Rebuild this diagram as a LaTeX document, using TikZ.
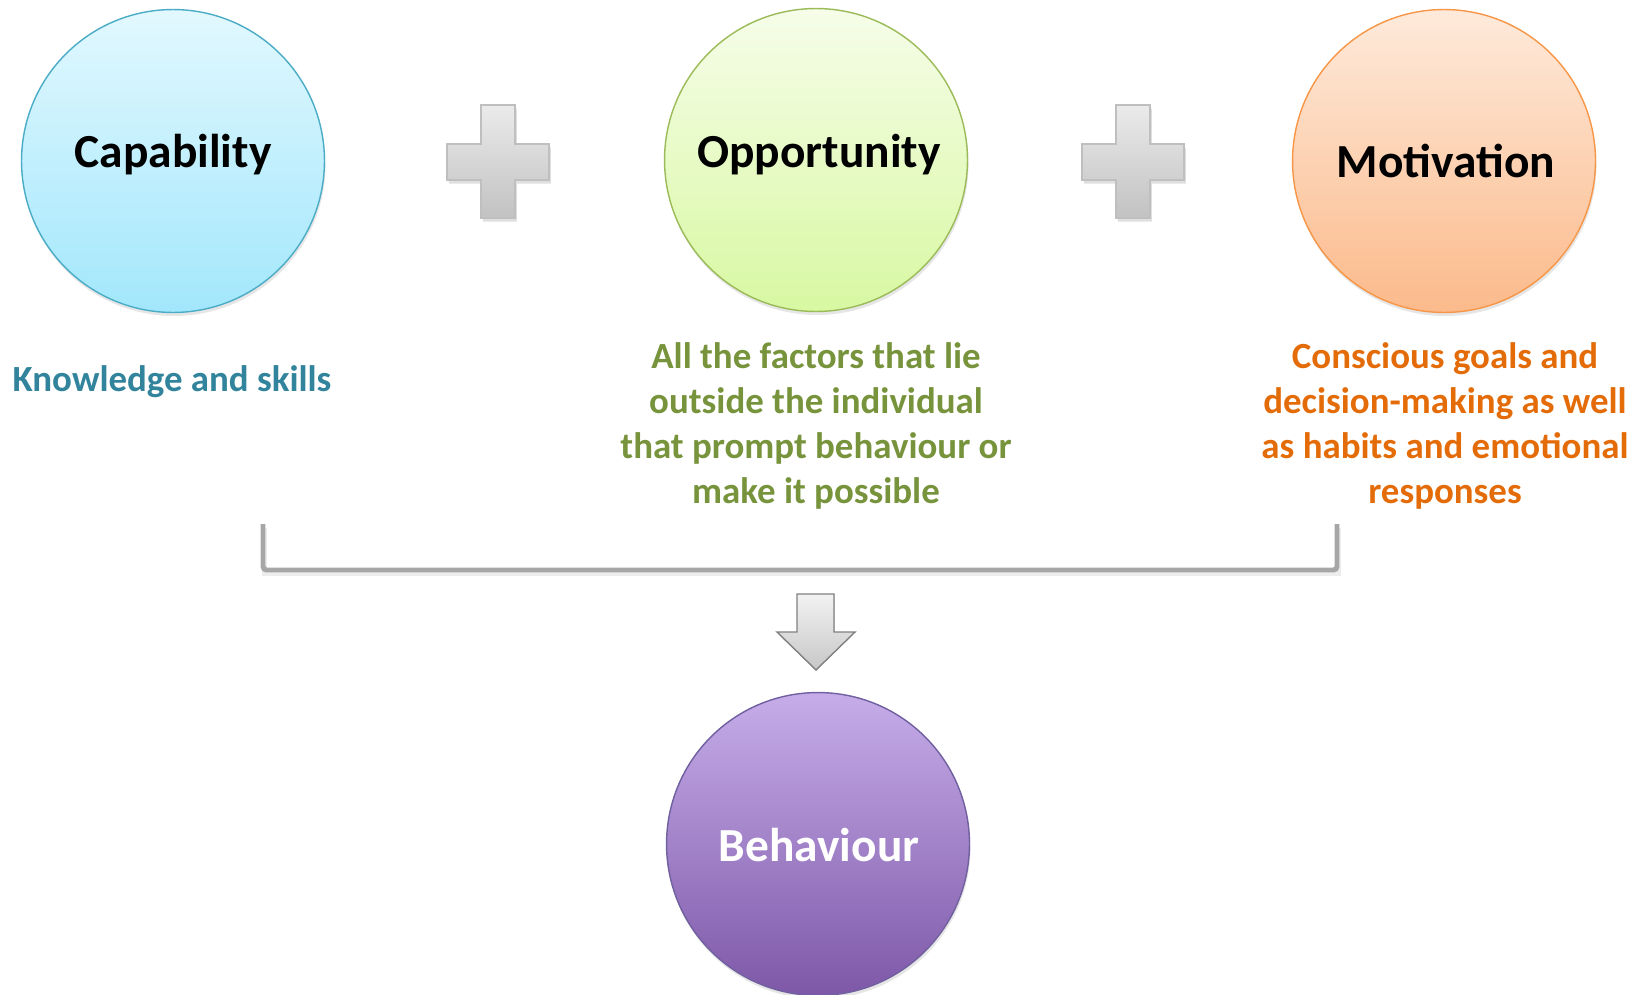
\documentclass[tikz,border=0pt]{standalone}
\usepackage{fontspec}
\setmainfont{Carlito}
\usetikzlibrary{shadows}

\definecolor{capline}{HTML}{4BACC6}
\definecolor{captop}{HTML}{E2F8FE}
\definecolor{capbot}{HTML}{A2E7FC}
\definecolor{oppline}{HTML}{9BBB59}
\definecolor{opptop}{HTML}{F6FDE9}
\definecolor{oppbot}{HTML}{D8F8A2}
\definecolor{motline}{HTML}{F79646}
\definecolor{mottop}{HTML}{FEEADB}
\definecolor{motbot}{HTML}{FBBA8B}
\definecolor{behline}{HTML}{7060A0}
\definecolor{behtop}{HTML}{C6ADE9}
\definecolor{behbot}{HTML}{7E58A8}
\definecolor{captext}{HTML}{31849B}
\definecolor{opptext}{HTML}{77933C}
\definecolor{mottext}{HTML}{E36C09}
\definecolor{greyline}{HTML}{A6A6A6}

\tikzstyle{ball}=[circle,minimum size=6.06cm,inner sep=0pt,line width=0.8pt,
  drop shadow={shadow xshift=0.6pt,shadow yshift=-2pt,opacity=0.2}]
\tikzstyle{title}=[font=\fontsize{27}{32}\selectfont\bfseries]
\tikzstyle{note}=[font=\fontsize{21}{25.5}\selectfont\bfseries,align=center]
\tikzstyle{plus}=[draw=black!25,top color=black!8,bottom color=black!24,line width=0.8pt,
  drop shadow={shadow xshift=1pt,shadow yshift=-2pt,opacity=0.25}]
\tikzstyle{bracket}=[draw=greyline,line width=2.8pt,rounded corners=2pt]
\tikzstyle{down}=[draw=black!50,top color=black!5,bottom color=black!22,line width=0.8pt]

\begin{document}
\begin{tikzpicture}[x=0.02cm,y=-0.02cm]
\clip (0,0) rectangle (1646,994);

\node[ball,draw=capline,top color=captop,bottom color=capbot] (cap) at (173,161) {};
\node[title] (capname) at (173,155) {Capability};
\node[ball,draw=oppline,top color=opptop,bottom color=oppbot] (opp) at (816,160) {};
\node[title] (oppname) at (819,155) {Opportunity};
\node[ball,draw=motline,top color=mottop,bottom color=motbot] (mot) at (1444,161) {};
\node[title] (motname) at (1446,161) {Motivation};
\node[ball,draw=behline,top color=behtop,bottom color=behbot] (beh) at (818,844) {};
\node[title,text=white] (behname) at (819,845) {Behaviour};

\foreach \px in {498,1133}
  \filldraw[plus] ({\px-17},105) -- ({\px+17},105) -- ({\px+17},144) -- ({\px+51},144)
    -- ({\px+51},180) -- ({\px+17},180) -- ({\px+17},218) -- ({\px-17},218)
    -- ({\px-17},180) -- ({\px-51},180) -- ({\px-51},144) -- ({\px-17},144) -- cycle;

\node[note,text=captext] (capnote) at (172,382) {Knowledge and skills};
\node[note,text=opptext] (oppnote) at (816,426) {All the factors that lie\\outside the individual\\that prompt behaviour or\\make it possible};
\node[note,text=mottext] (motnote) at (1445,426) {Conscious goals and\\decision-making as well\\as habits and emotional\\responses};

\coordinate (bl) at (263,524);
\coordinate (br) at (1337,524);
\draw[greyline!40,line width=2.8pt,opacity=0.5] ([xshift=1pt,yshift=-2pt]bl) -- ++(0,46) -| ([xshift=1pt,yshift=-2pt]br);
\draw[bracket] (bl) -- ++(0,46) -| (br);

\filldraw[down] (797,594) coordinate(a1) -- (834,594) -- (834,632) -- (855,632)
  -- (816,670) coordinate(tip) -- (777,632) -- (797,632) -- cycle;
\end{tikzpicture}
\end{document}
